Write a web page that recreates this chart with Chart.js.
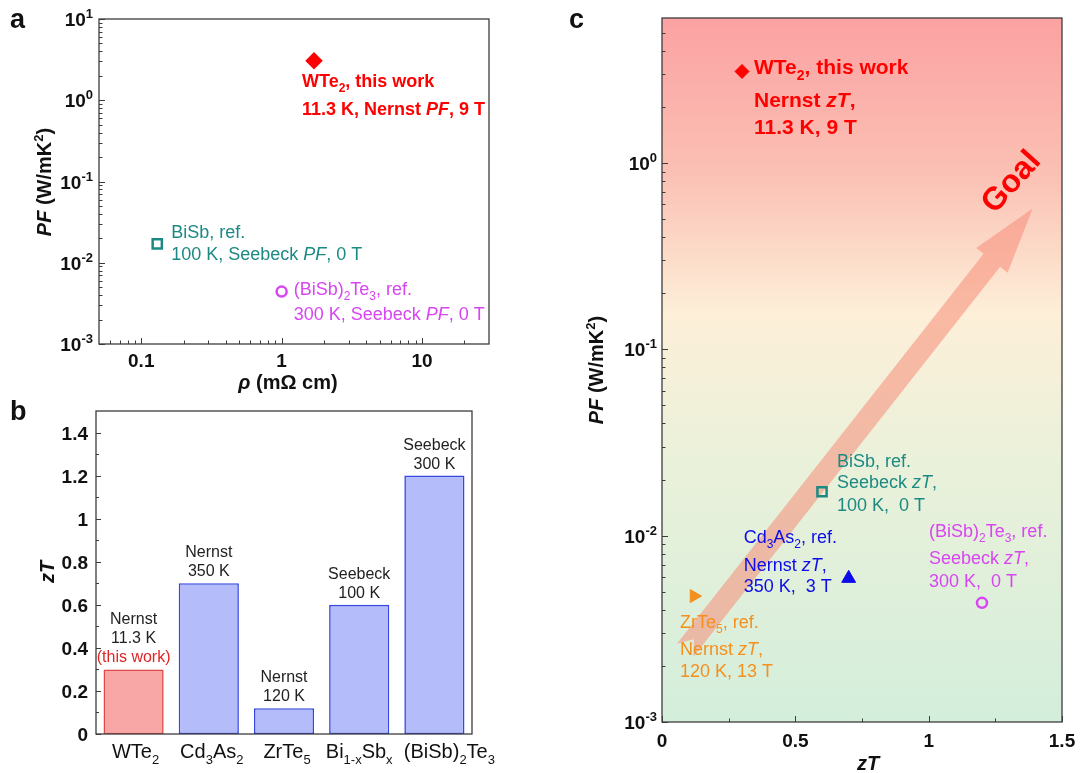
<!DOCTYPE html>
<html>
<head>
<meta charset="utf-8">
<script src="https://cdn.jsdelivr.net/npm/chart.js@4.4.1/dist/chart.umd.min.js"></script>
<style>
  body { margin: 0; background: #fff; }
  #wrap { position: relative; width: 1088px; height: 773px; }
  #wrap canvas { position: absolute; left: 0; top: 0; }
</style>
</head>
<body>
<div id="wrap">
  <canvas id="ca" width="1088" height="773"></canvas>
  <canvas id="cb" width="1088" height="773"></canvas>
  <canvas id="cc" width="1088" height="773"></canvas>
</div>
<script>
// ---- panel a : PF vs resistivity
const aNames = ["WTe2", "BiSb", "(BiSb)2Te3"];
const aRho = [1.7, 0.13, 1.0];
const aPF = [3.06, 0.0171, 0.00442];
const aNotes = [
  ["WTe_{2}, this work", "11.3 K, Nernst *PF*, 9 T"],
  ["BiSb, ref.", "100 K, Seebeck *PF*, 0 T"],
  ["(BiSb)_{2}Te_{3}, ref.", "300 K, Seebeck *PF*, 0 T"]
];
const aXTicks = [0.1, 1, 10];
const aXTickLabels = ["0.1", "1", "10"];
const aYTicks = [10, 1, 0.1, 0.01, 0.001];
const aYTickLabels = ["10^{1}", "10^{0}", "10^{-1}", "10^{-2}", "10^{-3}"];

// ---- panel b : zT bars
const bCategories = ["WTe_{2}", "Cd_{3}As_{2}", "ZrTe_{5}", "Bi_{1-x}Sb_{x}", "(BiSb)_{2}Te_{3}"];
const bZT = [0.3, 0.7, 0.12, 0.6, 1.2];
const bNotes = [
  ["Nernst", "11.3 K", "(this work)"],
  ["Nernst", "350 K"],
  ["Nernst", "120 K"],
  ["Seebeck", "100 K"],
  ["Seebeck", "300 K"]
];
const bYTicks = [0, 0.2, 0.4, 0.6, 0.8, 1, 1.2, 1.4];
const bYTickLabels = ["0", "0.2", "0.4", "0.6", "0.8", "1", "1.2", "1.4"];

// ---- panel c : PF vs zT
const cNames = ["WTe2", "BiSb", "Cd3As2", "ZrTe5", "(BiSb)2Te3"];
const cZT = [0.3, 0.6, 0.7, 0.12, 1.2];
const cPF = [3.1, 0.0172, 0.0059, 0.00474, 0.00436];
const cNotes = [
  ["WTe_{2}, this work", "Nernst *zT*,", "11.3 K, 9 T"],
  ["BiSb, ref.", "Seebeck *zT*,", "100 K,  0 T"],
  ["Cd_{3}As_{2}, ref.", "Nernst *zT*,", "350 K,  3 T"],
  ["ZrTe_{5}, ref.", "Nernst *zT*,", "120 K, 13 T"],
  ["(BiSb)_{2}Te_{3}, ref.", "Seebeck *zT*,", "300 K,  0 T"]
];
const cXTicks = [0, 0.5, 1, 1.5];
const cXTickLabels = ["0", "0.5", "1", "1.5"];
const cYTicks = [1, 0.1, 0.01, 0.001];
const cYTickLabels = ["10^{0}", "10^{-1}", "10^{-2}", "10^{-3}"];
const arrowFrom = [0.087, 0.00243];
const arrowTo = [1.39, 0.57];

// ---- styles
const FAM = '"Liberation Sans", Arial, Helvetica, sans-serif';
const RED = "#ff0000", TEAL = "#1c8a82", MAG = "#d845f2", BLUE = "#0c0ce8", ORANGE = "#f5901e";
const NONE = "rgba(0,0,0,0)";

const aStyle = ["rectRot", "rect", "circle"];
const aColor = [RED, TEAL, MAG];
const aFill = [RED, NONE, NONE];
const aRadius = [7, 6.5, 5];
const aNoteOff = [[-12, [26, 54]], [14, [-6, 16]], [12, [3, 28]]];
const aNoteBold = [true, false, false];

const bFill = ["#f9a6a6", "#b5bcfa", "#b5bcfa", "#b5bcfa", "#b5bcfa"];
const bEdge = ["#e04848", "#3448e0", "#3448e0", "#3448e0", "#3448e0"];
const bLabelShift = [2, 3, 3, 0, 15];

const cStyle = ["rectRot", "rect", "triangle", "triangle", "circle"];
const cRot = [0, 0, 0, 90, 0];
const cColor = [RED, TEAL, BLUE, ORANGE, MAG];
const cFill = [RED, NONE, BLUE, ORANGE, NONE];
const cRadius = [7, 6.5, 8, 7.5, 5];
const cNoteOff = [[12, [3, 36, 63]], [15, [-25, -4, 19]], [-105, [-35, -7, 14]], [-14, [32, 59, 81]], [-53, [-66, -39, -16]]];
const cNoteBold = [true, false, false, false, false];
const cNoteSize = [21, 18, 18, 18, 18];

// ---- rich text: _{sub} ^{sup} *italic*
function parseRich(s) {
  const segs = [];
  let i = 0, it = false, buf = "";
  const push = (t, pos) => { if (t) segs.push({ t: t, pos: pos, it: it }); };
  while (i < s.length) {
    const c = s[i];
    if ((c === "_" || c === "^") && s[i + 1] === "{") {
      push(buf, 0); buf = "";
      const j = s.indexOf("}", i);
      push(s.slice(i + 2, j), c === "_" ? 1 : -1);
      i = j + 1;
      continue;
    }
    if (c === "*") { push(buf, 0); buf = ""; it = !it; i++; continue; }
    buf += c; i++;
  }
  push(buf, 0);
  return segs;
}

function drawRich(ctx, str, x, y, o) {
  const size = o.size || 18;
  const segs = parseRich(str);
  const fontOf = sg => (sg.it ? "italic " : "") + (o.bold ? "bold " : "") + (sg.pos ? Math.round(size * 0.66) : size) + "px " + FAM;
  let w = 0;
  segs.forEach(sg => { ctx.font = fontOf(sg); sg.w = ctx.measureText(sg.t).width; w += sg.w; });
  let cx = o.align === "center" ? x - w / 2 : o.align === "right" ? x - w : x;
  ctx.save();
  ctx.fillStyle = o.color || "#000";
  ctx.textAlign = "left";
  ctx.textBaseline = "alphabetic";
  segs.forEach(sg => {
    ctx.font = fontOf(sg);
    const dy = sg.pos > 0 ? size * 0.28 : sg.pos < 0 ? -size * 0.42 : 0;
    ctx.fillText(sg.t, cx, y + dy);
    cx += sg.w;
  });
  ctx.restore();
}

function drawRotated(ctx, str, x, y, o) {
  ctx.save();
  ctx.translate(x, y);
  ctx.rotate(-Math.PI / 2);
  drawRich(ctx, str, 0, o.size * 0.35, Object.assign({ align: "center" }, o));
  ctx.restore();
}

// ---- axes helpers
function logMinor(lo, hi) {
  const out = [];
  for (let e = Math.floor(Math.log10(lo)); e <= Math.ceil(Math.log10(hi)); e++) {
    for (let m = 2; m <= 9; m++) {
      const v = m * Math.pow(10, e);
      if (v > lo && v < hi) out.push(v);
    }
  }
  return out;
}

function ticksLeft(chart, vals, len) {
  const { ctx, chartArea: a } = chart, s = chart.scales.y;
  ctx.beginPath();
  vals.forEach(v => {
    const y = Math.round(s.getPixelForValue(v)) + 0.5;
    ctx.moveTo(a.left, y); ctx.lineTo(a.left + len, y);
  });
  ctx.stroke();
}

function ticksBottom(chart, vals, len) {
  const { ctx, chartArea: a } = chart, s = chart.scales.x;
  ctx.beginPath();
  vals.forEach(v => {
    const x = Math.round(s.getPixelForValue(v)) + 0.5;
    ctx.moveTo(x, a.bottom); ctx.lineTo(x, a.bottom - len);
  });
  ctx.stroke();
}

function frame(chart) {
  const { ctx, chartArea: a } = chart;
  ctx.save();
  ctx.strokeStyle = "#3c3c3c";
  ctx.lineWidth = 1.3;
  ctx.strokeRect(a.left, a.top, a.right - a.left, a.bottom - a.top);
  ctx.restore();
}

function yLabels(chart, vals, labels, gap) {
  const s = chart.scales.y, a = chart.chartArea;
  vals.forEach((v, i) => drawRich(chart.ctx, labels[i], a.left - gap, s.getPixelForValue(v) + 7,
    { size: 19, bold: true, align: "right", color: "#111" }));
}

function xLabels(chart, vals, labels, base) {
  const s = chart.scales.x;
  vals.forEach((v, i) => drawRich(chart.ctx, labels[i], s.getPixelForValue(v), base,
    { size: 19, bold: true, align: "center", color: "#111" }));
}

function notesAt(chart, xs, ys, notes, offs, colors, sizes, bolds) {
  const sx = chart.scales.x, sy = chart.scales.y;
  notes.forEach((lines, i) => {
    const px = sx.getPixelForValue(xs[i]), py = sy.getPixelForValue(ys[i]);
    lines.forEach((ln, k) => drawRich(chart.ctx, ln, px + offs[i][0], py + offs[i][1][k],
      { size: sizes[i], bold: bolds[i], color: colors[i] }));
  });
}

const baseOpts = (pad, scales) => ({
  responsive: false,
  animation: false,
  events: [],
  layout: { padding: pad },
  plugins: { legend: { display: false }, tooltip: { enabled: false } },
  scales: scales
});

// ---- panel a
const panelA = {
  id: "panelA",
  afterDatasetsDraw(chart) {
    const ctx = chart.ctx;
    notesAt(chart, aRho, aPF, aNotes, aNoteOff, aColor, [18, 18, 18], aNoteBold);
    frame(chart);
    ctx.save();
    ctx.strokeStyle = "#3c3c3c"; ctx.lineWidth = 1;
    ticksLeft(chart, aYTicks, 6);
    ticksLeft(chart, logMinor(0.001, 10), 3.5);
    ticksBottom(chart, aXTicks, 6);
    ticksBottom(chart, logMinor(0.05, 30), 3.5);
    ctx.restore();
    yLabels(chart, aYTicks, aYTickLabels, 6);
    xLabels(chart, aXTicks, aXTickLabels, 367);
    drawRotated(ctx, "*PF* (W/mK^{2})", 44, 182, { size: 20, bold: true, color: "#111" });
    drawRich(ctx, "*\u03c1* (m\u03a9 cm)", 288, 389, { size: 20, bold: true, align: "center", color: "#111" });
    drawRich(ctx, "a", 10, 28, { size: 27, bold: true, color: "#111" });
  }
};

new Chart(document.getElementById("ca"), {
  type: "scatter",
  data: {
    datasets: aNames.map((n, i) => ({
      label: n,
      data: [{ x: aRho[i], y: aPF[i] }],
      pointStyle: aStyle[i],
      pointRadius: aRadius[i],
      pointBorderWidth: 2.5,
      pointBackgroundColor: aFill[i],
      pointBorderColor: aColor[i]
    }))
  },
  options: baseOpts({ left: 99, top: 19, right: 599, bottom: 429 }, {
    x: { type: "logarithmic", min: 0.05, max: 30, display: false },
    y: { type: "logarithmic", min: 0.001, max: 10, display: false }
  }),
  plugins: [panelA]
});

// ---- panel b
const panelB = {
  id: "panelB",
  afterDatasetsDraw(chart) {
    const ctx = chart.ctx, sx = chart.scales.x, sy = chart.scales.y;
    bNotes.forEach((lines, i) => {
      const px = sx.getPixelForValue(i);
      const top = sy.getPixelForValue(bZT[i]);
      lines.forEach((ln, k) => {
        const y = top - 7 - (lines.length - 1 - k) * 19;
        const col = ln.charAt(0) === "(" ? "#e02424" : "#222";
        drawRich(ctx, ln, px, y, { size: 16, align: "center", color: col });
      });
      drawRich(ctx, bCategories[i], px + bLabelShift[i], 758, { size: 20, align: "center", color: "#111" });
    });
    frame(chart);
    ctx.save();
    ctx.strokeStyle = "#3c3c3c"; ctx.lineWidth = 1;
    ticksLeft(chart, bYTicks, 5);
    ticksLeft(chart, [0.1, 0.3, 0.5, 0.7, 0.9, 1.1, 1.3], 3);
    ctx.restore();
    yLabels(chart, bYTicks, bYTickLabels, 8);
    drawRotated(ctx, "*zT*", 47, 572, { size: 20, bold: true, color: "#111" });
    drawRich(ctx, "b", 10, 420, { size: 27, bold: true, color: "#111" });
  }
};

new Chart(document.getElementById("cb"), {
  type: "bar",
  data: {
    labels: bCategories,
    datasets: [{
      data: bZT,
      backgroundColor: bFill,
      borderColor: bEdge,
      borderWidth: 1.6,
      borderSkipped: false,
      barPercentage: 0.8,
      categoryPercentage: 1
    }]
  },
  options: baseOpts({ left: 96, top: 411, right: 616, bottom: 39 }, {
    x: { display: false },
    y: { min: 0, max: 1.5, display: false }
  }),
  plugins: [panelB]
});

// ---- panel c
const panelC = {
  id: "panelC",
  beforeDatasetsDraw(chart) {
    const { ctx, chartArea: a } = chart, sx = chart.scales.x, sy = chart.scales.y;
    const g = ctx.createLinearGradient(0, a.top, 0, a.bottom);
    g.addColorStop(0, "#fba2a2");
    g.addColorStop(0.22, "#fbc0b4");
    g.addColorStop(0.42, "#fdefd8");
    g.addColorStop(0.62, "#ebf1da");
    g.addColorStop(1, "#d3eedb");
    ctx.save();
    ctx.fillStyle = g;
    ctx.fillRect(a.left, a.top, a.right - a.left, a.bottom - a.top);

    // goal arrow
    const x0 = sx.getPixelForValue(arrowFrom[0]), y0 = sy.getPixelForValue(arrowFrom[1]);
    const x1 = sx.getPixelForValue(arrowTo[0]), y1 = sy.getPixelForValue(arrowTo[1]);
    const L = Math.hypot(x1 - x0, y1 - y0), ux = (x1 - x0) / L, uy = (y1 - y0) / L;
    const nx = -uy, ny = ux;
    const hw = 10.5, hh = 20, hl = 66, notch = 14;
    const P = (s, t) => [x0 + ux * s + nx * t, y0 + uy * s + ny * t];
    const pts = [P(0, -hw), P(L - hl, -hw), P(L - hl, -hh), P(L, 0), P(L - hl, hh), P(L - hl, hw), P(0, hw), P(notch, 0)];
    ctx.beginPath();
    pts.forEach((p, i) => i ? ctx.lineTo(p[0], p[1]) : ctx.moveTo(p[0], p[1]));
    ctx.closePath();
    ctx.fillStyle = "rgba(245,140,120,0.55)";
    ctx.fill();

    ctx.translate(1010, 181);
    ctx.rotate(-48 * Math.PI / 180);
    drawRich(ctx, "Goal", 0, 11, { size: 32, bold: true, align: "center", color: RED });
    ctx.restore();
  },
  afterDatasetsDraw(chart) {
    const ctx = chart.ctx;
    notesAt(chart, cZT, cPF, cNotes, cNoteOff, cColor, cNoteSize, cNoteBold);
    frame(chart);
    ctx.save();
    ctx.strokeStyle = "#3c3c3c"; ctx.lineWidth = 1;
    ticksLeft(chart, cYTicks, 6);
    ticksLeft(chart, logMinor(0.001, 6), 3.5);
    ticksBottom(chart, cXTicks, 6);
    ticksBottom(chart, [0.25, 0.75, 1.25], 3.5);
    ctx.restore();
    yLabels(chart, cYTicks, cYTickLabels, 5);
    xLabels(chart, cXTicks, cXTickLabels, 747);
    drawRotated(ctx, "*PF* (W/mK^{2})", 596, 370, { size: 20, bold: true, color: "#111" });
    drawRich(ctx, "*zT*", 868, 770, { size: 20, bold: true, align: "center", color: "#111" });
    drawRich(ctx, "c", 569, 28, { size: 27, bold: true, color: "#111" });
  }
};

new Chart(document.getElementById("cc"), {
  type: "scatter",
  data: {
    datasets: cNames.map((n, i) => ({
      label: n,
      data: [{ x: cZT[i], y: cPF[i] }],
      pointStyle: cStyle[i],
      rotation: cRot[i],
      pointRadius: cRadius[i],
      pointBorderWidth: cFill[i] === NONE ? 2.5 : 1,
      pointBackgroundColor: cFill[i],
      pointBorderColor: cColor[i]
    }))
  },
  options: baseOpts({ left: 662, top: 18, right: 26, bottom: 51 }, {
    x: { type: "linear", min: 0, max: 1.5, display: false },
    y: { type: "logarithmic", min: 0.001, max: 6, display: false }
  }),
  plugins: [panelC]
});
</script>
</body>
</html>
